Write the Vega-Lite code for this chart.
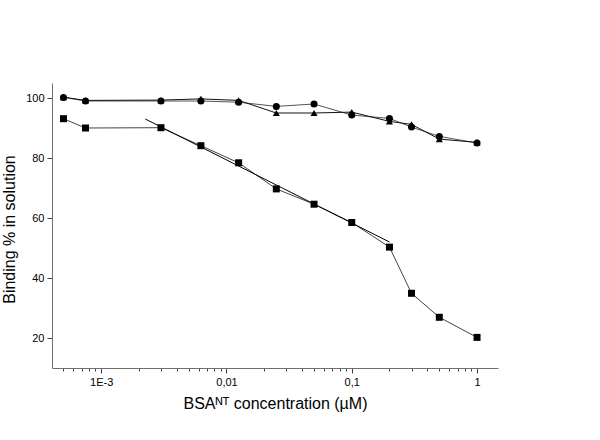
{
  "$schema": "https://vega.github.io/schema/vega-lite/v6.json",
  "width": 446,
  "height": 285,
  "autosize": "none",
  "padding": {"left": 52, "top": 83, "right": 102, "bottom": 72},
  "background": "white",
  "config": {
    "view": {"stroke": null},
    "font": "Liberation Sans",
    "axis": {
      "grid": false,
      "domainColor": "#707070",
      "tickColor": "#404040",
      "tickWidth": 1,
      "labelColor": "black",
      "labelFont": "Liberation Sans",
      "labelFontSize": 11,
      "titleFont": "Liberation Sans",
      "titleFontSize": 16,
      "titleFontWeight": "normal",
      "titleColor": "black",
      "labelPadding": 3,
      "tickSize": 5
    }
  },
  "datasets": {
    "pts": [
      {"series": "sq", "conc": 0.0005, "binding": 93.1},
      {"series": "sq", "conc": 0.00075, "binding": 90},
      {"series": "sq", "conc": 0.003, "binding": 90.1},
      {"series": "sq", "conc": 0.00625, "binding": 84.1},
      {"series": "sq", "conc": 0.0125, "binding": 78.4},
      {"series": "sq", "conc": 0.025, "binding": 69.7},
      {"series": "sq", "conc": 0.05, "binding": 64.6},
      {"series": "sq", "conc": 0.1, "binding": 58.5},
      {"series": "sq", "conc": 0.2, "binding": 50.3},
      {"series": "sq", "conc": 0.3, "binding": 34.9},
      {"series": "sq", "conc": 0.5, "binding": 26.9},
      {"series": "sq", "conc": 1, "binding": 20.2},
      {"series": "ci", "conc": 0.0005, "binding": 100.2},
      {"series": "ci", "conc": 0.00075, "binding": 99},
      {"series": "ci", "conc": 0.003, "binding": 99},
      {"series": "ci", "conc": 0.00625, "binding": 99},
      {"series": "ci", "conc": 0.0125, "binding": 98.6},
      {"series": "ci", "conc": 0.025, "binding": 97.2},
      {"series": "ci", "conc": 0.05, "binding": 98},
      {"series": "ci", "conc": 0.1, "binding": 94.3},
      {"series": "ci", "conc": 0.2, "binding": 93.2},
      {"series": "ci", "conc": 0.3, "binding": 90.3},
      {"series": "ci", "conc": 0.5, "binding": 87.2},
      {"series": "ci", "conc": 1, "binding": 85},
      {"series": "tr", "conc": 0.0005, "binding": 100.3},
      {"series": "tr", "conc": 0.00075, "binding": 99.2},
      {"series": "tr", "conc": 0.003, "binding": 99.3},
      {"series": "tr", "conc": 0.00625, "binding": 99.7},
      {"series": "tr", "conc": 0.0125, "binding": 99.2},
      {"series": "tr", "conc": 0.025, "binding": 95},
      {"series": "tr", "conc": 0.05, "binding": 95},
      {"series": "tr", "conc": 0.1, "binding": 95.3},
      {"series": "tr", "conc": 0.2, "binding": 92.2},
      {"series": "tr", "conc": 0.3, "binding": 91.2},
      {"series": "tr", "conc": 0.5, "binding": 86.3},
      {"series": "tr", "conc": 1, "binding": 85.2}
    ],
    "fit": [
      {"conc": 0.00225, "binding": 93},
      {"conc": 0.2, "binding": 52}
    ]
  },
  "layer": [
    {
      "data": {"name": "pts"},
      "mark": {"type": "line", "strokeWidth": 1},
      "encoding": {
        "x": {
          "field": "conc", "type": "quantitative",
          "scale": {"type": "log", "domain": [0.000405, 1.47], "nice": false},
          "axis": {
            "orient": "bottom",
            "title": "BSAᴺᵀ concentration (µM)",
            "titlePadding": 8,
            "values": [0.0005, 0.0006, 0.0007, 0.0008, 0.0009, 0.001, 0.002, 0.003, 0.004, 0.005, 0.006, 0.007, 0.008, 0.009, 0.01, 0.02, 0.03, 0.04, 0.05, 0.06, 0.07, 0.08, 0.09, 0.1, 0.2, 0.3, 0.4, 0.5, 0.6, 0.7, 0.8, 0.9, 1],
            "labelExpr": "datum.value == 0.001 ? '1E-3' : datum.value == 0.01 ? '0,01' : datum.value == 0.1 ? '0,1' : datum.value == 1 ? '1' : ''",
            "tickSize": {"condition": {"test": "datum.value == 0.001 || datum.value == 0.01 || datum.value == 0.1 || datum.value == 1", "value": 5}, "value": 3},
            "labelOverlap": false
          }
        },
        "y": {
          "field": "binding", "type": "quantitative",
          "scale": {"domain": [10, 105], "nice": false, "zero": false},
          "axis": {
            "title": "Binding % in solution",
            "values": [20, 40, 60, 80, 100],
            "titlePadding": 8,
            "titleY": 146
          }
        },
        "detail": {"field": "series"},
        "color": {
          "field": "series", "type": "nominal",
          "scale": {"domain": ["sq", "ci", "tr"], "range": ["#444444", "#555555", "#111111"]},
          "legend": null
        }
      }
    },
    {
      "data": {"name": "fit"},
      "mark": {"type": "line", "strokeWidth": 1, "color": "black"},
      "encoding": {
        "x": {"field": "conc", "type": "quantitative"},
        "y": {"field": "binding", "type": "quantitative"}
      }
    },
    {
      "data": {"name": "pts"},
      "mark": {"type": "point", "filled": true, "opacity": 1, "color": "black"},
      "encoding": {
        "x": {"field": "conc", "type": "quantitative"},
        "y": {"field": "binding", "type": "quantitative"},
        "shape": {
          "field": "series", "type": "nominal",
          "scale": {"domain": ["sq", "ci", "tr"], "range": ["square", "circle", "triangle-up"]},
          "legend": null
        },
        "size": {
          "field": "series", "type": "nominal",
          "scale": {"domain": ["sq", "ci", "tr"], "range": [49, 50, 70]},
          "legend": null
        }
      }
    }
  ]
}
